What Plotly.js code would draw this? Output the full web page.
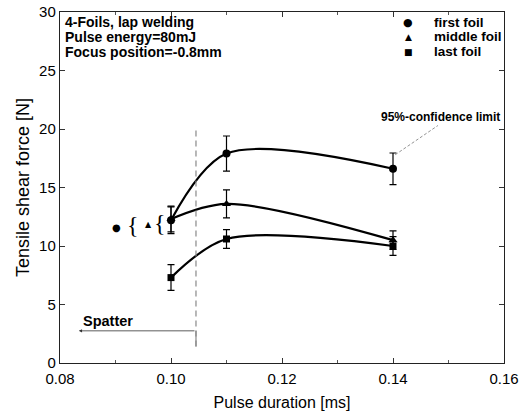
<!DOCTYPE html>
<html>
<head>
<meta charset="utf-8">
<script src="https://cdn.plot.ly/plotly-3.0.1.min.js"></script>
<style>html,body{margin:0;padding:0;background:#fff;}#chart{width:526px;height:419px;}</style>
</head>
<body>
<div id="chart"></div>
<script>
// Data
const pulseDuration = [0.10, 0.11, 0.14];
const firstFoil = [12.2, 17.9, 16.6];
const firstFoilErr = [1.15, 1.5, 1.35];
const middleFoil = [12.3, 13.6, 10.5];
const middleFoilErr = [1.1, 1.2, 0.8];
const lastFoil = [7.3, 10.6, 10.0];
const lastFoilErr = [1.1, 0.8, 0.8];
const seriesNames = ['first foil', 'middle foil', 'last foil'];
const xTicks = [0.08, 0.10, 0.12, 0.14, 0.16];
const xTickLabels = ['0.08', '0.10', '0.12', '0.14', '0.16'];
const yTicks = [0, 5, 10, 15, 20, 25, 30];

const FONT = 'Liberation Sans, Arial, sans-serif';
const series = [
  {y: firstFoil, e: firstFoilErr, sym: 'circle', size: 8},
  {y: middleFoil, e: middleFoilErr, sym: 'triangle-up', size: 8},
  {y: lastFoil, e: lastFoilErr, sym: 'square', size: 7}
];
const traces = [];
series.forEach((s, i) => {
  traces.push({
    x: pulseDuration, y: s.y, type: 'scatter', mode: 'lines',
    line: {color: '#000', width: 2.2, shape: 'spline', smoothing: 0.9},
    showlegend: false, hoverinfo: 'skip'
  });
  traces.push({
    x: pulseDuration, y: s.y, type: 'scatter', mode: 'markers', name: seriesNames[i],
    marker: {symbol: s.sym, size: s.size, color: '#000'},
    error_y: {type: 'data', array: s.e, visible: true, color: '#000', thickness: 1.2, width: 3.5},
    showlegend: false
  });
});

const bold = (t) => '<b>' + t + '</b>';
const rowY = [0.971, 0.929, 0.887];
const annotations = [];
['4-Foils, lap welding', 'Pulse energy=80mJ', 'Focus position=-0.8mm'].forEach((t, i) => {
  annotations.push({xref: 'paper', yref: 'paper', x: 0.009, y: rowY[i],
    xanchor: 'left', yanchor: 'middle', showarrow: false, text: bold(t), borderpad: 0,
    font: {family: FONT, size: 14, color: '#000'}});
});
const legSyms = ['●', '▲', '■'];
seriesNames.forEach((t, i) => {
  annotations.push({xref: 'paper', yref: 'paper', x: 0.784, y: rowY[i], xanchor: 'center', yanchor: 'middle',
    showarrow: false, text: legSyms[i], borderpad: 0, font: {family: 'DejaVu Sans', size: [11, 9, 9][i], color: '#000'}});
  annotations.push({xref: 'paper', yref: 'paper', x: 0.84, y: rowY[i], xanchor: 'left', yanchor: 'middle',
    showarrow: false, text: bold(t), borderpad: 0, font: {family: FONT, size: 13.5, color: '#000'}});
});
annotations.push({x: 0.1486, y: 21.0, xanchor: 'center', yanchor: 'middle', showarrow: false,
  text: bold('95%-confidence limit'), font: {family: FONT, size: 12, color: '#000'}});
annotations.push({x: 0.0838, y: 3.6, xanchor: 'left', yanchor: 'middle', showarrow: false,
  text: bold('Spatter'), font: {family: FONT, size: 14.5, color: '#000'}});
annotations.push({x: 0.0834, y: 2.75, ax: 0.1045, ay: 2.75, axref: 'x', ayref: 'y', text: '',
  showarrow: true, arrowhead: 2, arrowsize: 0.8, arrowwidth: 0.8, arrowcolor: '#333'});
// left-side symbol/brace markers
annotations.push({x: 0.0902, y: 11.6, showarrow: false, text: '●', font: {family: 'DejaVu Sans', size: 10, color: '#000'}});
annotations.push({x: 0.0932, y: 11.8, showarrow: false, text: '{', font: {family: 'Liberation Serif', size: 24, color: '#000'}});
annotations.push({x: 0.0960, y: 11.8, showarrow: false, text: '▲', font: {family: 'DejaVu Sans', size: 8, color: '#000'}});
annotations.push({x: 0.0980, y: 12.0, showarrow: false, text: '{', font: {family: 'Liberation Serif', size: 24, color: '#000'}});

const layout = {
  width: 526, height: 419,
  margin: {l: 60, r: 22, t: 12, b: 56},
  paper_bgcolor: '#fff', plot_bgcolor: '#fff',
  showlegend: false,
  font: {family: FONT, size: 15, color: '#000'},
  xaxis: {
    range: [0.08, 0.16], tickvals: xTicks, ticktext: xTickLabels,
    ticks: 'inside', ticklen: 5, tickwidth: 1, tickcolor: '#333',
    minor: {dtick: 0.01, ticks: 'inside', ticklen: 3, tickcolor: '#555'},
    showline: true, linecolor: '#222', linewidth: 1.2, mirror: 'ticks',
    showgrid: false, zeroline: false, ticklabelstandoff: 2,
    tickfont: {family: FONT, size: 15},
    title: {text: 'Pulse duration [ms]', font: {family: FONT, size: 16}, standoff: 10}
  },
  yaxis: {
    range: [0, 30], tickvals: yTicks,
    ticks: 'inside', ticklen: 5, tickwidth: 1, tickcolor: '#333',
    showline: true, linecolor: '#222', linewidth: 1.2, mirror: 'ticks',
    showgrid: false, zeroline: false,
    tickfont: {family: FONT, size: 15},
    title: {text: 'Tensile shear force [N]', font: {family: FONT, size: 18}, standoff: 4}
  },
  shapes: [
    {type: 'line', x0: 0.1045, x1: 0.1045, y0: 1.4, y1: 20.2, line: {color: '#888', width: 1.2, dash: '6px,4px'}},
    {type: 'line', x0: 0.1045, x1: 0.1045, y0: 1.4, y1: 2.75, line: {color: '#888', width: 1.2}},
    {type: 'line', x0: 0.1404, x1: 0.1481, y0: 17.8, y1: 20.3, line: {color: '#777', width: 0.8, dash: '3px,2px'}}
  ],
  annotations: annotations
};
Plotly.newPlot('chart', traces, layout, {displayModeBar: false, staticPlot: true});
</script>
</body>
</html>
